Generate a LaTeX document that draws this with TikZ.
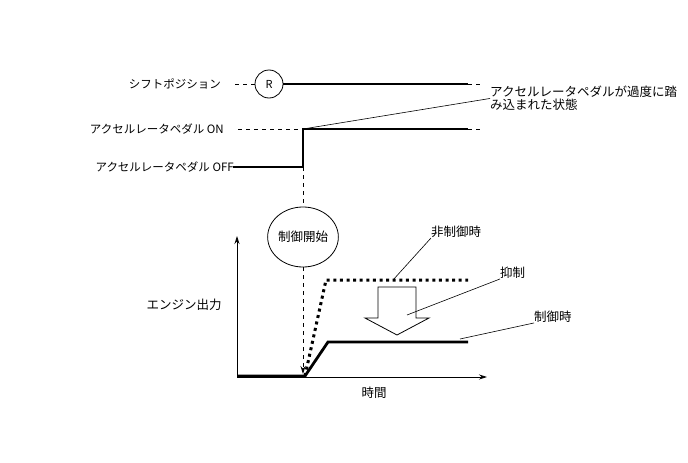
\documentclass[tikz,border=0pt]{standalone}
\usepackage{fontspec}
\newfontfamily\jpfont{Noto Sans CJK JP}
\usetikzlibrary{arrows.meta,positioning,shapes.geometric}
\tikzset{
  lbl/.style={inner sep=0pt,font=\jpfont\fontsize{11.5}{13}\selectfont},
  klbl/.style={inner sep=0pt,font=\jpfont\fontsize{12.5}{13}\selectfont},
  sig/.style={draw=black,line width=2.8pt},
  nosig/.style={draw=black,line width=3pt,dash pattern=on 3pt off 3.6pt},
  guide/.style={draw=black,line width=.8pt,dash pattern=on 4pt off 4pt},
  lead/.style={draw=black,line width=.6pt},
  axis/.style={draw=black,line width=.8pt,-{Stealth[length=8pt,width=5pt]}},
}
\begin{document}
\begin{tikzpicture}[x=1pt,y=-1pt]
  \useasboundingbox (0,0) rectangle (688,463);
  % shift position row
  \node[lbl,anchor=east] (shiftlbl) at (221,84) {シフトポジション};
  \node[circle,draw,line width=.8pt,minimum size=28pt,inner sep=0pt,
        font=\jpfont\fontsize{11}{13}\selectfont] (rng) at (269,84) {R};
  \coordinate (s0) at (235,84);
  \coordinate (s1) at (468,84);
  \coordinate (s2) at (482,84);
  \draw[guide] (s0) -- (rng.west);
  \draw[sig] (rng.east) -- (s1);
  \draw[guide] (s1) -- (s2);
  % accelerator pedal rows
  \node[lbl,anchor=east] (onlbl) at (224,129) {アクセルレータペダル ON};
  \node[lbl,anchor=east] (offlbl) at (234,167) {アクセルレータペダル OFF};
  \coordinate (a0) at (238,129);
  \coordinate (step) at (303,129);
  \coordinate (a1) at (468,129);
  \coordinate (a2) at (482,129);
  \coordinate (low) at (303,167);
  \draw[guide] (a0) -- (step);
  \draw[sig] (a1) -- (step);
  \draw[guide] (a1) -- (a2);
  \draw[sig,line cap=rect] (offlbl.east) -- (low) -- (step);
  \node[klbl,anchor=north west,align=left] (over) at (490,86)
    {アクセルレータペダルが過度に踏\\み込まれた状態};
  \draw[lead] (step) -- (over.west);
  % control start
  \node[ellipse,draw,line width=.8pt,minimum width=64pt,minimum height=60pt,
        inner sep=0pt,font=\jpfont\fontsize{12.5}{13}\selectfont] (ctl) at (303,237) {制御開始};
  \coordinate (t0) at (303,374);
  \draw[guide] (low) -- (ctl.north);
  \draw[guide,-{Stealth[length=8pt,width=5pt]}] (ctl.south) -- (t0);
  % engine output graph
  \coordinate (o) at (237,377);
  \coordinate (ytop) at (237,236);
  \coordinate (xend) at (487,377);
  \draw[axis] (o) -- (ytop);
  \draw[axis] (o) -- (xend);
  \node[klbl] (outlbl) at (184,305) {エンジン出力};
  \node[klbl] (timelbl) at (374,393) {時間};
  \coordinate (c0) at (237,376);
  \coordinate (c1) at (305,376);
  \coordinate (c2) at (328,342);
  \coordinate (c3) at (468,342);
  \coordinate (n1) at (326,280);
  \coordinate (n2) at (468,280);
  \draw[nosig] (c1) -- (n1) -- (n2);
  \draw[sig,line join=miter] (c0) -- (c1) -- (c2) -- (c3);
  % suppression arrow
  \draw[line width=.8pt,fill=white] (378,287) -- (416,287) -- (416,318) -- (429,318)
    -- (397,335) -- (365,318) -- (378,318) -- cycle;
  % leaders
  \node[klbl,anchor=south west] (nolbl) at (431,238) {非制御時};
  \node[klbl,anchor=west] (suplbl) at (500,273) {抑制};
  \node[klbl,anchor=west] (ctllbl) at (534,317) {制御時};
  \coordinate (p1) at (393,280);
  \coordinate (p2) at (407,315);
  \coordinate (p3) at (460,339);
  \draw[lead] (nolbl.south west) -- (p1);
  \draw[lead] (suplbl.south west) -- (p2);
  \draw[lead] (ctllbl.south west) -- (p3);
\end{tikzpicture}
\end{document}
